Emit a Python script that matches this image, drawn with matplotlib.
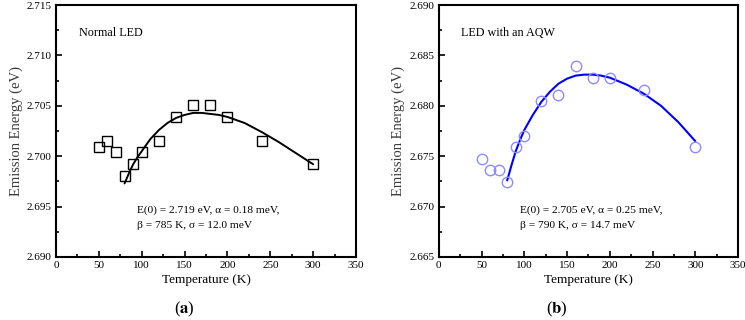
import numpy as np
import matplotlib
matplotlib.use('Agg')
import matplotlib.pyplot as plt
from matplotlib.ticker import MultipleLocator, FormatStrFormatter

plt.rcParams['font.family'] = ['Liberation Serif', 'DejaVu Serif']
plt.rcParams['mathtext.fontset'] = 'stix'

# measured points
temp = [50, 60, 70, 80, 90, 100, 120, 140, 160, 180, 200, 240, 300]
e_normal = [2.7009, 2.7015, 2.7004, 2.6980, 2.6992, 2.7004, 2.7015,
            2.7039, 2.7051, 2.7051, 2.7039, 2.7015, 2.6992]
e_aqw = [2.6747, 2.6736, 2.6736, 2.6724, 2.6759, 2.6770, 2.6805,
         2.6811, 2.6840, 2.6828, 2.6828, 2.6816, 2.6759]

# fitted curves
fit_t = [80, 85, 90, 95, 100, 110, 120, 130, 140, 150, 160, 170, 180, 190,
         200, 220, 240, 260, 280, 300]
fit_normal = [2.6973, 2.6983, 2.6992, 2.6999, 2.7005, 2.7017, 2.7026, 2.7033,
              2.7038, 2.7041, 2.7043, 2.7043, 2.7042, 2.7041, 2.7039, 2.7033,
              2.7024, 2.7014, 2.7003, 2.6992]
fit_aqw = [2.6726, 2.6741, 2.6755, 2.6766, 2.6776, 2.6791, 2.6804, 2.6814,
           2.6822, 2.6827, 2.6830, 2.6831, 2.6831, 2.6830, 2.6828, 2.6821,
           2.6812, 2.6800, 2.6784, 2.6765]

fig = plt.figure(figsize=(7.45, 3.2), dpi=100)
ax1 = fig.add_axes([0.0752, 0.197, 0.4027, 0.787])
ax2 = fig.add_axes([0.589, 0.197, 0.4016, 0.787])


def style(ax, ylim, ystep):
    ax.set_xlim(0, 350)
    ax.set_ylim(*ylim)
    ax.xaxis.set_major_locator(MultipleLocator(50))
    ax.xaxis.set_minor_locator(MultipleLocator(25))
    ax.yaxis.set_major_locator(MultipleLocator(ystep))
    ax.yaxis.set_minor_locator(MultipleLocator(ystep / 2))
    ax.yaxis.set_major_formatter(FormatStrFormatter('%.3f'))
    ax.tick_params(which='both', direction='in', top=False, right=False,
                   labelsize=8, width=1.2, pad=3)
    ax.tick_params(which='major', length=4)
    ax.tick_params(which='minor', length=2.5)
    for s in ax.spines.values():
        s.set_linewidth(1.5)
    ax.set_xlabel('Temperature (K)', fontsize=9.5, labelpad=3)
    ax.set_ylabel('Emission Energy (eV)', fontsize=10.5, color='#3a3a3a', labelpad=3)


ax1.plot(fit_t, fit_normal, color='black', lw=1.4, zorder=3,
         solid_joinstyle='round', solid_capstyle='round')
ax1.plot(temp, e_normal, 's', ms=7, mfc='none', mec='black', mew=1.0, zorder=4)
style(ax1, (2.690, 2.715), 0.005)
ax1.text(0.075, 0.889, 'Normal LED', transform=ax1.transAxes, fontsize=8.7, va='center')
ax1.text(0.27, 0.155, 'E(0) = 2.719 eV, α = 0.18 meV,\nβ = 785 K, σ = 12.0 meV',
         transform=ax1.transAxes, fontsize=8.2, va='center', linespacing=1.8)

ax2.plot(fit_t, fit_aqw, color='#0000ff', lw=1.5, zorder=3,
         solid_joinstyle='round', solid_capstyle='round')
ax2.plot(temp, e_aqw, 'o', ms=7.5, mfc='none', mec='#8c8cff', mew=1.0, zorder=4)
style(ax2, (2.665, 2.690), 0.005)
ax2.text(0.075, 0.889, 'LED with an AQW', transform=ax2.transAxes, fontsize=8.7, va='center')
ax2.text(0.27, 0.155, 'E(0) = 2.705 eV, α = 0.25 meV,\nβ = 790 K, σ = 14.7 meV',
         transform=ax2.transAxes, fontsize=8.2, va='center', linespacing=1.8)

fig.text(184 / 745, 1 - 309 / 320, '($\\mathbf{a}$)', ha='center', va='center', fontsize=12)
fig.text(557 / 745, 1 - 309 / 320, '($\\mathbf{b}$)', ha='center', va='center', fontsize=12)

fig.savefig('out.png', dpi=100)
